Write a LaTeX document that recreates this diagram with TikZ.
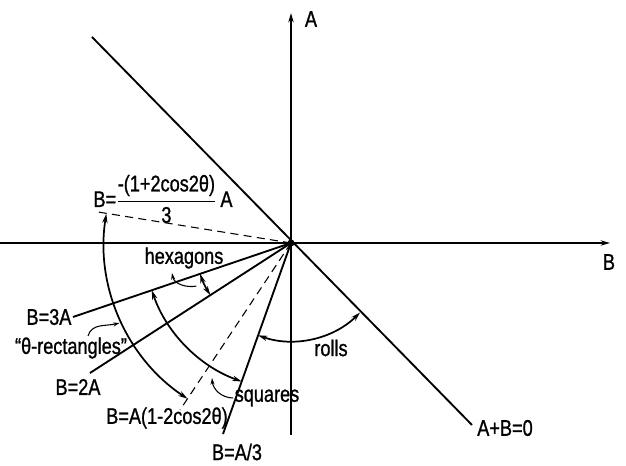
\documentclass[tikz,border=0pt]{standalone}
\usepackage{amsmath}
\usepackage{fontspec}
\setmainfont{Liberation Sans}[FakeStretch=0.8, FakeBold=1]
\usetikzlibrary{arrows.meta, calc}

\begin{document}
\begin{tikzpicture}[x=0.75pt, y=0.75pt,
  >={Stealth[length=7pt, width=4pt]},
  ray/.style={line width=1.4pt},
  guide/.style={line width=0.8pt, dash pattern=on 6pt off 4pt},
  phasearc/.style={line width=1.3pt, <->},
  leader/.style={line width=0.8pt, ->, >={Stealth[length=5pt, width=3pt]}},
  lbl/.style={font=\fontsize{17}{19}\selectfont, inner sep=1pt}]

\useasboundingbox (-291,-223) rectangle (335,243);

% origin of the (B,A) plane; 1 unit = 1 px of the drawing
\coordinate (O) at (0,0);

% Axes
\coordinate (Bneg) at (-291,0);
\coordinate (Bpos) at (319,0);
\coordinate (Aneg) at (0,-192);
\coordinate (Apos) at (0,230);
\draw[ray, ->] (Bneg) -- (Bpos);
\draw[ray, ->] (Aneg) -- (Apos);
\node[lbl] (labA) at (20,224) {A};
\node[lbl] (labB) at (318,-19) {B};

% Boundaries
\coordinate (sumU) at (-199,206);
\coordinate (sumL) at (181,-182);
\coordinate (b3a) at (-218,-74);
\coordinate (b2a) at (-201,-130);
\coordinate (ba3) at (-68,-191);
\draw[ray] (sumU) -- (sumL);
\foreach \e in {b3a, b2a, ba3}
  \draw[ray] (O) -- (\e);

% theta-dependent boundaries
\coordinate (dashU) at (-193,31);
\coordinate (dashL) at (-111,-167);
\draw[guide] (O) -- (dashU);
\draw[guide] (O) -- (dashL);

\fill (O) circle (3.5);

% Line labels
\node[lbl, anchor=east] (lab3a) at (b3a) {B=3A};
\node[lbl] (lab2a) at (-213,-144) {B=2A};
\node[lbl] (laba3) at (-54,-209) {B=A/3};
\node[lbl] (labsum) at (214,-185) {A+B=0};
\node[lbl] (labdU) at (-128,44)
  {B=$\dfrac{\text{-(1+2cos2θ)}}{\text{3}}$\,A};
\node[lbl] (labdL) at (-124,-175) {B=A(1-2cos2θ)};

% Stability ranges
% angles: dashU 171, b3a 198.75, b2a 212.9, dashL 236.4, ba3 250.4, sumL 314.8
\draw[phasearc] ($(O)+(171:187)$) arc[start angle=171, end angle=236.4, radius=187];
\draw[phasearc] ($(O)+(198.75:147)$) arc[start angle=198.75, end angle=250.4, radius=147];
\draw[phasearc] ($(O)+(198.75:96)$) arc[start angle=198.75, end angle=212.9, radius=96];
\draw[phasearc] ($(O)+(250.4:98)$) arc[start angle=250.4, end angle=314.8, radius=98];

% Phase names
\node[lbl] (labhex) at (-107,-15) {hexagons};
\node[lbl] (labrect) at (-220,-105) {``θ-rectangles''};
\node[lbl] (labsq) at (-24,-155) {squares};
\node[lbl] (labroll) at (40,-105) {rolls};

% Leaders
\coordinate (hexfoot) at ($(O)+(204.5:104)$);
\coordinate (hextip) at (-119,-30);
\draw[leader] (hexfoot) to[out=190, in=-80] (hextip);
\coordinate (rectfoot) at (-203,-93);
\coordinate (recttip) at ($(O)+(205:189)$);
\draw[leader] (rectfoot) to[out=75, in=195] (recttip);
\coordinate (sqtip) at (-79,-135);
\draw[leader] (labsq.west) to[out=180, in=-85] (sqtip);

\end{tikzpicture}
\end{document}
